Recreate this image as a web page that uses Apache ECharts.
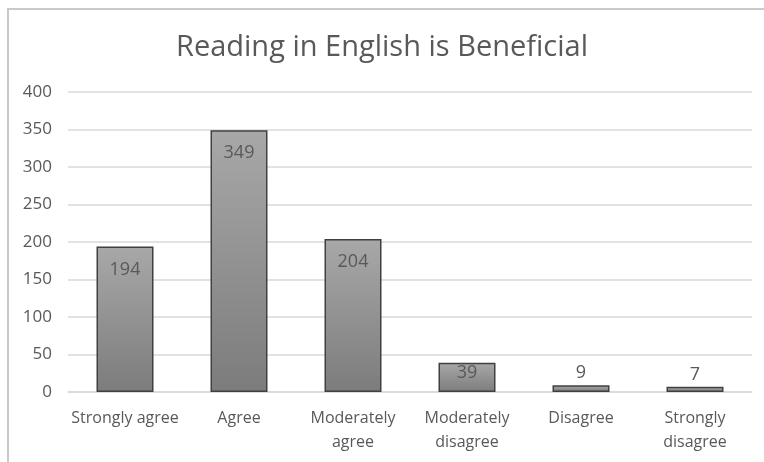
<!DOCTYPE html>
<html>
<head>
<meta charset="utf-8">
<script src="https://cdn.jsdelivr.net/npm/echarts@6/dist/echarts.min.js"></script>
<style>
  html, body { margin: 0; padding: 0; background: #ffffff; }
  #chart { width: 764px; height: 462px; }
</style>
</head>
<body>
<div id="chart"></div>
<script>
// Survey responses: "Reading in English is Beneficial"
const categories = ['Strongly agree', 'Agree', 'Moderately\nagree', 'Moderately\ndisagree', 'Disagree', 'Strongly\ndisagree'];
const counts = [194, 349, 204, 39, 9, 7];
const yTicks = [0, 50, 100, 150, 200, 250, 300, 350, 400];

const FONT = '"Open Sans", "Noto Sans", sans-serif';
const TEXT = '#595959';

const chart = echarts.init(document.getElementById('chart'), null, { renderer: 'canvas' });

// Tiny bars get their label above the bar; short bars hug the top edge;
// taller ones sit inside, a little below the top.
function labelFor(v) {
  if (v < 20) return { position: 'top', distance: 3 };
  if (v < 60) return { position: 'insideTop', distance: 1 };
  return { position: 'insideTop', distance: 14 };
}
const barData = counts.map(v => ({ value: v, label: labelFor(v) }));

chart.setOption({
  animation: false,
  backgroundColor: '#ffffff',
  title: {
    text: 'Reading in English is Beneficial',
    left: 'center',
    top: 28,
    textStyle: { fontFamily: FONT, fontSize: 29, fontWeight: 'normal', color: TEXT }
  },
  graphic: [{
    type: 'rect',
    shape: { x: 8, y: 9, width: 800, height: 500 },
    style: { fill: 'none', stroke: '#c9c9c9', lineWidth: 2 },
    silent: true
  }],
  grid: { left: 68, right: 12, top: 92, bottom: 70 },
  xAxis: {
    type: 'category',
    data: categories,
    axisTick: { show: false },
    axisLine: { lineStyle: { color: '#d9d9d9', width: 1.5 } },
    axisLabel: {
      interval: 0, margin: 14, color: TEXT, fontFamily: FONT, fontSize: 16, lineHeight: 24
    }
  },
  yAxis: {
    type: 'value',
    min: yTicks[0],
    max: yTicks[yTicks.length - 1],
    interval: 50,
    axisLine: { show: false },
    axisTick: { show: false },
    splitLine: { lineStyle: { color: '#d9d9d9', width: 1.5 } },
    axisLabel: { margin: 16, color: TEXT, fontFamily: FONT, fontSize: 17 }
  },
  series: [{
    type: 'bar',
    data: barData,
    barWidth: '50%',
    itemStyle: {
      color: new echarts.graphic.LinearGradient(0, 0, 0, 1, [
        { offset: 0, color: '#a8a8a8' },
        { offset: 1, color: '#7c7c7c' }
      ]),
      borderColor: '#404040',
      borderWidth: 1.5
    },
    label: {
      show: true,
      color: TEXT,
      fontFamily: FONT,
      fontSize: 18
    }
  }]
});
</script>
</body>
</html>
